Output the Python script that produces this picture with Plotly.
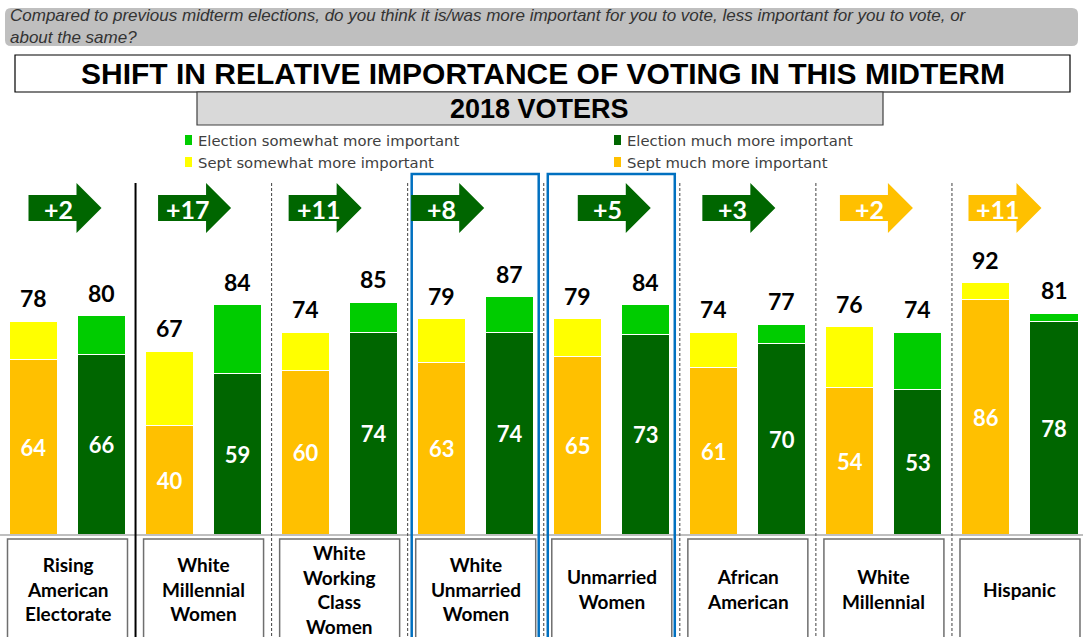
import plotly.graph_objects as go

# ---- data -------------------------------------------------------------
groups = [
    "Rising<br>American<br>Electorate",
    "White<br>Millennial<br>Women",
    "White<br>Working<br>Class<br>Women",
    "White<br>Unmarried<br>Women",
    "Unmarried<br>Women",
    "African<br>American",
    "White<br>Millennial",
    "Hispanic",
]
sept_much = [64, 40, 60, 63, 65, 61, 54, 86]
sept_total = [78, 67, 74, 79, 79, 74, 76, 92]
elec_much = [66, 59, 74, 74, 73, 70, 53, 78]
elec_total = [80, 84, 85, 87, 84, 77, 74, 81]
highlighted = [3, 4]

question = ("Compared to previous midterm elections, do you think it is/was more important for you "
            "to vote, less important for you to vote, or<br>about the same?")
title = "SHIFT IN RELATIVE IMPORTANCE OF VOTING IN THIS MIDTERM"
subtitle = "2018 VOTERS"

# ---- styling ----------------------------------------------------------
W, H = 1083, 637
PITCH = 136.07            # pixels per group on the x axis
X0_PX = 67.5              # pixel position of the first group centre
BASE_PX = 535.0           # pixel row of the zero line
UNIT_PX = 2.74            # pixels per percentage point
BAR_OFF = 0.25
BAR_W = 0.353

ORANGE = "#FFC000"
YELLOW = "#FFFF00"
LGREEN = "#00CC00"
DGREEN = "#006600"
BLUE = "#0070C0"
NUM_FONT = "Lato, Carlito, Calibri, sans-serif"
HEAD_FONT = "Liberation Sans, Arial, sans-serif"
ARROW_NUDGE_PX = [-3, -9.5, -15, -28.5, 2, -9.5, -8, -15.5]

sept_some = [t - m for t, m in zip(sept_total, sept_much)]
elec_some = [t - m for t, m in zip(elec_total, elec_much)]
idx = list(range(len(groups)))
xs = [i - BAR_OFF for i in idx]
xe = [i + BAR_OFF for i in idx]


def py(p):
    """pixel row -> paper y"""
    return 1 - p / H


def pxx(p):
    """pixel column -> paper x"""
    return p / W


def note(x, y, text, font, xref="paper", xanchor="center", **kw):
    return dict(x=x, y=y, xref=xref, yref="paper", text=text, showarrow=False,
                xanchor=xanchor, yanchor="middle", font=font, **kw)


fig = go.Figure()
bar_line = dict(color="white", width=1)
inner_font = dict(family=NUM_FONT, size=22, color="white", weight="bold")

fig.add_bar(x=xs, y=sept_much, width=BAR_W, marker=dict(color=ORANGE, line=bar_line),
            text=sept_much, textposition="inside", insidetextanchor="middle",
            textfont=inner_font, constraintext="none", hoverinfo="skip")
fig.add_bar(x=xs, y=sept_some, width=BAR_W, marker=dict(color=YELLOW, line=bar_line),
            hoverinfo="skip")
fig.add_bar(x=xe, y=elec_much, width=BAR_W, marker=dict(color=DGREEN, line=bar_line),
            text=elec_much, textposition="inside", insidetextanchor="middle",
            textfont=inner_font, constraintext="none", hoverinfo="skip")
fig.add_bar(x=xe, y=elec_some, width=BAR_W, marker=dict(color=LGREEN, line=bar_line),
            hoverinfo="skip")

shapes = []
annotations = []

# totals above each stack
for x, t in list(zip(xs, sept_total)) + list(zip(xe, elec_total)):
    annotations.append(dict(x=x, y=t, xref="x", yref="y", text=str(t), showarrow=False,
                            xanchor="center", yanchor="bottom", yshift=7,
                            font=dict(family=NUM_FONT, size=23, color="black", weight="bold")))

# header: question box with rounded corners
shapes.append(dict(type="path", xref="paper", yref="paper",
                   path="M {a},{b} L {c},{b} Q {c2},{b} {c2},{b2} L {c2},{d2} Q {c2},{d} {c},{d} "
                        "L {a},{d} Q {a2},{d} {a2},{d2} L {a2},{b2} Q {a2},{b} {a},{b} Z".format(
                            a=pxx(11), c=pxx(1072), a2=pxx(5), c2=pxx(1078),
                            b=py(8), b2=py(14), d=py(46), d2=py(40)),
                   fillcolor="#BFBFBF", line=dict(width=0), layer="below"))
annotations.append(note(pxx(8), py(27), "<i>" + question + "</i>",
                        dict(family=HEAD_FONT, size=17, color="#333333"),
                        xanchor="left", align="left"))

# title box
shapes.append(dict(type="rect", xref="paper", yref="paper", x0=pxx(15), x1=pxx(1070),
                   y0=py(55), y1=py(92), fillcolor="white", line=dict(color="black", width=1.2)))
annotations.append(note(pxx(543), py(74), "<b>" + title + "</b>",
                        dict(family=HEAD_FONT, size=30, color="black")))

# sub-title box
shapes.append(dict(type="rect", xref="paper", yref="paper", x0=pxx(197), x1=pxx(883),
                   y0=py(92), y1=py(125), fillcolor="#D9D9D9", line=dict(color="#404040", width=1.2)))
annotations.append(note(pxx(539), py(108.5), "<b>" + subtitle + "</b>",
                        dict(family=HEAD_FONT, size=27, color="black")))

# legend
legend_items = [
    (185, 140, LGREEN, "Election somewhat more important"),
    (185, 162, YELLOW, "Sept somewhat more important"),
    (614, 140, DGREEN, "Election much more important"),
    (614, 162, ORANGE, "Sept much more important"),
]
for lx, ly, col, txt in legend_items:
    shapes.append(dict(type="rect", xref="paper", yref="paper", x0=pxx(lx), x1=pxx(lx + 7),
                       y0=py(ly - 5), y1=py(ly + 5), fillcolor=col, line=dict(width=0)))
    annotations.append(note(pxx(lx + 11), py(ly), txt,
                            dict(family="DejaVu Sans, Verdana, sans-serif", size=14.8,
                                 color="#404040"), xanchor="left"))

# zero line
shapes.append(dict(type="line", xref="paper", yref="y", x0=0, x1=1, y0=0, y1=0,
                   line=dict(color="#BFBFBF", width=2)))

# group separators
for i in idx[:-1]:
    solid = i == 0
    shapes.append(dict(type="line", xref="x", yref="paper", x0=i + 0.5, x1=i + 0.5,
                       y0=py(183), y1=0,
                       line=dict(color="black" if solid else "#404040",
                                 width=2 if solid else 1,
                                 dash="solid" if solid else "3px,2px")))

# highlight frames
for i in highlighted:
    shapes.append(dict(type="rect", xref="x", yref="paper", x0=i - 64 / PITCH, x1=i + 63 / PITCH,
                       y0=py(174), y1=py(645), line=dict(color=BLUE, width=2.5),
                       fillcolor="rgba(0,0,0,0)"))

# category label boxes
for i, name in zip(idx, groups):
    shapes.append(dict(type="rect", xref="x", yref="paper", x0=i - 60 / PITCH, x1=i + 60 / PITCH,
                       y0=py(539), y1=py(650), fillcolor="white",
                       line=dict(color="#6F6F6F", width=1.5)))
    annotations.append(note(i, py(589), "<b>" + name + "</b>",
                            dict(family=NUM_FONT, size=19, color="black"), xref="x",
                            align="center"))

# shift arrows (difference between the two totals)
for i in idx:
    diff = elec_total[i] - sept_total[i]
    col = DGREEN if diff >= 0 else ORANGE
    ac = i + ARROW_NUDGE_PX[i] / PITCH
    u = 1 / PITCH
    path = ("M {x0},{y0} L {x1},{y0} L {x1},{yh0} L {xt},{ym} L {x1},{yh1} L {x1},{y1} "
            "L {x0},{y1} Z").format(
        x0=ac - 36 * u, x1=ac + 12 * u, xt=ac + 37 * u,
        y0=py(195), y1=py(221), yh0=py(183), yh1=py(233), ym=py(208))
    shapes.append(dict(type="path", xref="x", yref="paper", path=path, fillcolor=col,
                       line=dict(width=0)))
    annotations.append(note(ac - 6 * u, py(209), "+%d" % abs(diff),
                            dict(family=NUM_FONT, size=25, color="white", weight="bold"),
                            xref="x"))

fig.update_layout(
    width=W, height=H,
    margin=dict(l=0, r=0, t=0, b=0),
    paper_bgcolor="white", plot_bgcolor="white",
    barmode="stack", showlegend=False,
    xaxis=dict(visible=False, range=[-X0_PX / PITCH, (W - X0_PX) / PITCH], fixedrange=True),
    yaxis=dict(visible=False, range=[(BASE_PX - H) / UNIT_PX, BASE_PX / UNIT_PX], fixedrange=True),
    shapes=shapes, annotations=annotations,
)

fig.write_html("out.html")
